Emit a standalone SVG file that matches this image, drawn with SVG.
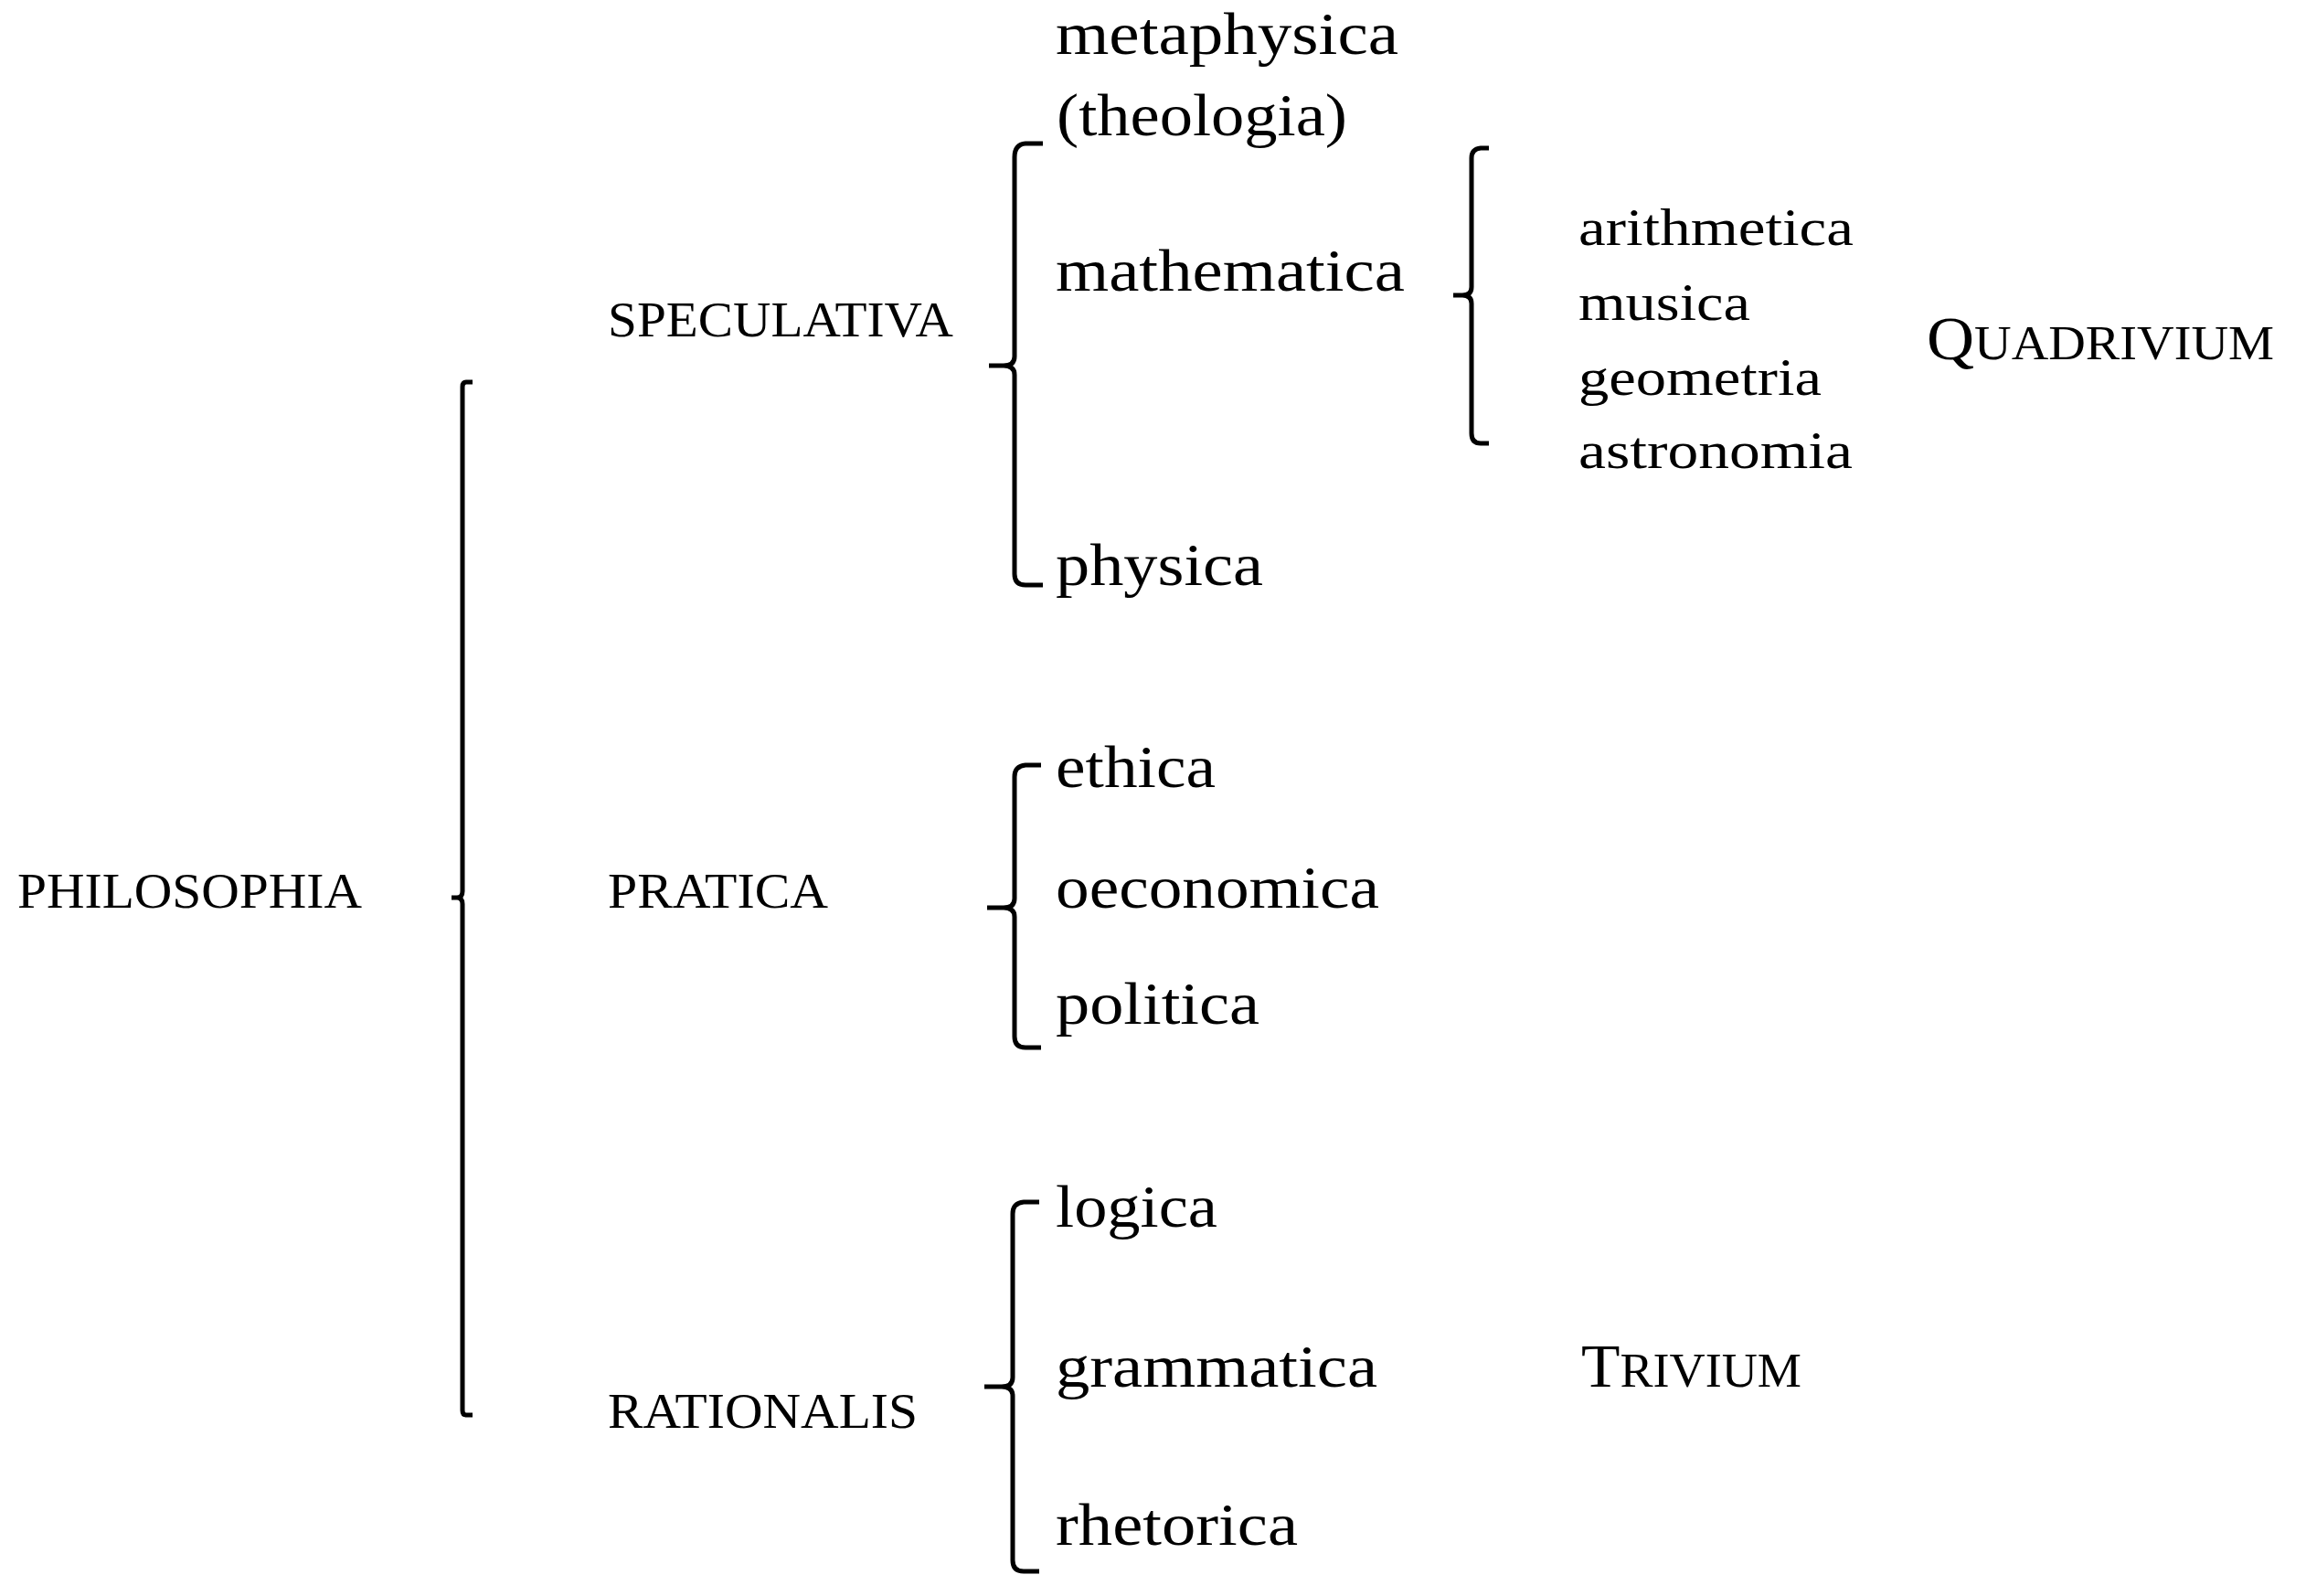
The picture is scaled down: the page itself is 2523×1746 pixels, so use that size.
<svg xmlns="http://www.w3.org/2000/svg" width="2523" height="1746" viewBox="0 0 2523 1746">
<style>
.t{font-family:"Liberation Serif","Times New Roman",serif;fill:#000}
.cap{font-size:55px}
.big{font-size:66px}
.mid{font-size:57px}
.br{fill:none;stroke:#000;stroke-width:5;stroke-linecap:butt;stroke-linejoin:round}
</style>
<rect width="2523" height="1746" fill="#fff"/>
<g id="connectors">
<path class="br" d="M517 418 H510 Q506 418 506 423 V975 Q506 982 500 982 H494 M500 982 Q506 982 506 989 V1543 Q506 1548 510 1548 H517"/>
<path class="br" d="M1141 157 H1122 Q1110 158 1110 172 V390 Q1110 400 1098 400 H1082 M1098 400 Q1110 400 1110 410 V628 Q1110 640 1122 640 H1141"/>
<path class="br" d="M1139 837 H1122 Q1110 838 1110 850 V983 Q1110 993 1098 993 H1080 M1098 993 Q1110 993 1110 1003 V1134 Q1110 1146 1122 1146 H1139"/>
<path class="br" d="M1137 1315 H1120 Q1108 1316 1108 1328 V1507 Q1108 1517 1096 1517 H1077 M1096 1517 Q1108 1517 1108 1527 V1707 Q1108 1719 1120 1719 H1137"/>
<path class="br" d="M1629 162 H1620 Q1610 163 1610 173 V314 Q1610 323 1600 323 H1590 M1600 323 Q1610 323 1610 332 V474 Q1610 485 1620 485 H1629"/>
</g>
<g id="philosophia"><text class="t cap" x="19" y="993" textLength="377" lengthAdjust="spacingAndGlyphs">PHILOSOPHIA</text></g>
<g id="speculativa"><text class="t cap" x="665" y="368" textLength="378" lengthAdjust="spacingAndGlyphs">SPECULATIVA</text></g>
<g id="pratica"><text class="t cap" x="665" y="993" textLength="241" lengthAdjust="spacingAndGlyphs">PRATICA</text></g>
<g id="rationalis"><text class="t cap" x="665" y="1562" textLength="339" lengthAdjust="spacingAndGlyphs">RATIONALIS</text></g>
<g id="metaphysica">
<text class="t big" x="1155" y="59" textLength="375" lengthAdjust="spacingAndGlyphs">metaphysica</text>
<text class="t big" x="1156" y="148" textLength="318" lengthAdjust="spacingAndGlyphs">(theologia)</text>
</g>
<g id="mathematica"><text class="t big" x="1155" y="318" textLength="382" lengthAdjust="spacingAndGlyphs">mathematica</text></g>
<g id="physica"><text class="t big" x="1155" y="640" textLength="227" lengthAdjust="spacingAndGlyphs">physica</text></g>
<g id="ethica"><text class="t big" x="1155" y="861" textLength="175" lengthAdjust="spacingAndGlyphs">ethica</text></g>
<g id="oeconomica"><text class="t big" x="1155" y="993" textLength="354" lengthAdjust="spacingAndGlyphs">oeconomica</text></g>
<g id="politica"><text class="t big" x="1155" y="1120" textLength="223" lengthAdjust="spacingAndGlyphs">politica</text></g>
<g id="logica"><text class="t big" x="1155" y="1342" textLength="177" lengthAdjust="spacingAndGlyphs">logica</text></g>
<g id="grammatica"><text class="t big" x="1155" y="1517" textLength="352" lengthAdjust="spacingAndGlyphs">grammatica</text></g>
<g id="rhetorica"><text class="t big" x="1155" y="1690" textLength="265" lengthAdjust="spacingAndGlyphs">rhetorica</text></g>
<g id="arithmetica"><text class="t mid" x="1727" y="268" textLength="301" lengthAdjust="spacingAndGlyphs">arithmetica</text></g>
<g id="musica"><text class="t mid" x="1727" y="350" textLength="188" lengthAdjust="spacingAndGlyphs">musica</text></g>
<g id="geometria"><text class="t mid" x="1727" y="432" textLength="266" lengthAdjust="spacingAndGlyphs">geometria</text></g>
<g id="astronomia"><text class="t mid" x="1727" y="512" textLength="300" lengthAdjust="spacingAndGlyphs">astronomia</text></g>
<g id="quadrivium"><text class="t" x="2108" y="393" textLength="380" lengthAdjust="spacingAndGlyphs"><tspan font-size="68">Q</tspan><tspan font-size="53">UADRIVIUM</tspan></text></g>
<g id="trivium"><text class="t" x="1730" y="1517" textLength="241" lengthAdjust="spacingAndGlyphs"><tspan font-size="68">T</tspan><tspan font-size="53">RIVIUM</tspan></text></g>
</svg>
